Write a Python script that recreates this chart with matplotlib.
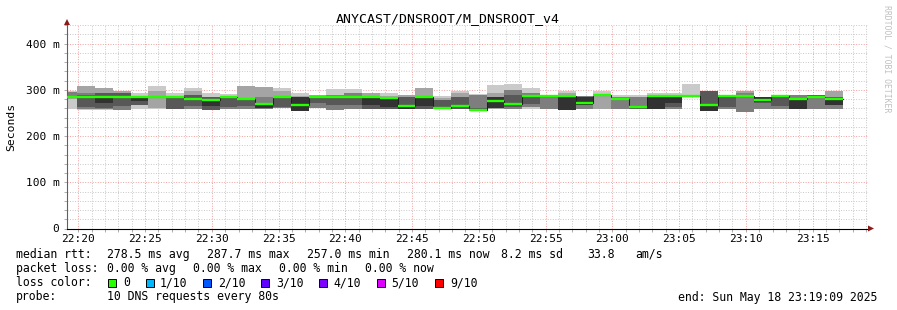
import matplotlib
matplotlib.use("Agg")
import matplotlib.pyplot as plt
import numpy as np
from matplotlib.patches import Rectangle, Polygon
from matplotlib.ticker import FixedLocator, FuncFormatter

W, H, DPI = 897, 310, 100

title = "ANYCAST/DNSROOT/M_DNSROOT_v4"
y_label = "Seconds"
watermark = "RRDTOOL / TOBI OETIKER"

# time axis in seconds after window start (22:19:09), one hour shown
window_seconds = 3600
first_step_end_s = 46
step_s = 80
first_label_s = 51
time_labels = ["22:20", "22:25", "22:30", "22:35", "22:40", "22:45",
               "22:50", "22:55", "23:00", "23:05", "23:10", "23:15"]

# median rtt per step (ms)
median_ms = [284.5, 284.5, 284.5, 284.5, 284.5, 284.5, 284.5, 279.5, 277, 284.5,
             281, 270, 284, 266, 285, 285, 285, 285, 283, 265.5,
             285, 261, 265.5, 257, 276, 270, 285.5, 285.5, 285.5, 270.5,
             287.7, 280.6, 262, 287, 287, 285.5, 267.5, 285.5, 285.5, 277,
             287, 280.5, 285, 280.1]

# 10 sorted ping rtts per step (ms)
pings_ms = [
    [258, 281, 282, 283, 284, 285, 287, 295, 296, 297],
    [257, 257.5, 258, 262, 284, 285, 288, 292, 309, 309],
    [257, 257.5, 258, 261, 271, 285, 292, 292.5, 303, 303],
    [255.8, 256, 256, 265.6, 284, 284.5, 292, 292.5, 298, 298],
    [257.7, 267, 267, 267, 276.4, 284.5, 285, 285.5, 286, 292.3],
    [257.7, 259.8, 284, 284.2, 284.4, 284.6, 284.8, 285, 298, 308.8],
    [257.5, 257.5, 257.5, 257.7, 284, 285, 285.5, 286, 286.5, 292.3],
    [257.5, 257.5, 257.7, 265, 278, 281, 288.6, 288.6, 298, 303],
    [256, 256, 256, 256.2, 265.6, 277.5, 285, 285, 285, 293.7],
    [257.5, 257.5, 257.7, 262, 284, 285, 285.5, 286, 286, 290.8],
    [259, 259, 259.1, 264.9, 279.3, 282, 282, 282, 308.8, 308.8],
    [257.5, 257.5, 257.7, 261.3, 261.5, 271, 271.5, 285, 306.7, 306.7],
    [259.5, 259.5, 259.8, 263.4, 282, 284.5, 285, 285, 298, 303],
    [254.5, 254.6, 254.7, 254.8, 254.8, 285, 285.2, 285.4, 285.6, 293.7],
    [261, 261, 261.3, 270.6, 284, 286, 286, 286, 288.6, 288.6],
    [256, 256, 256.2, 267, 284, 285, 286, 288.6, 288.6, 301.6],
    [257.5, 257.5, 257.7, 267, 284, 285, 286, 292.3, 292.3, 301.6],
    [257.5, 257.5, 257.5, 257.7, 267, 286.5, 286.7, 287, 293.7, 293.7],
    [257.5, 257.5, 257.5, 257.7, 262, 284, 284.5, 285, 285.5, 293.7],
    [257.5, 257.5, 257.5, 257.5, 257.7, 266, 284.8, 285, 288.6, 288.6],
    [257.5, 257.5, 257.5, 257.7, 264.9, 285.5, 286, 286.5, 303, 303],
    [257.5, 257.5, 257.7, 258, 260, 262, 277.8, 278, 281.7, 286.5],
    [257.5, 257.5, 257.7, 258, 265, 266, 285, 285.2, 292.3, 298],
    [256.5, 256.5, 256.5, 256.5, 257, 258.5, 260.5, 288.6, 288.6, 290.8],
    [259, 259, 259.5, 259.8, 259.8, 283.6, 283.8, 284, 292.3, 310.3],
    [257.5, 257.5, 257.7, 262, 268, 272, 288.6, 299.5, 299.5, 312.4],
    [257.7, 262, 262, 269.2, 284, 285.5, 286, 292.3, 292.3, 303],
    [257.5, 257.5, 257.7, 285, 285.2, 285.5, 285.8, 286.5, 286.5, 288.6],
    [256, 256, 256, 256.1, 256.2, 285, 286, 287, 292.3, 298],
    [257.5, 257.5, 257.7, 267.7, 268, 283.6, 284, 286.5, 286.5, 286.5],
    [257.5, 257.7, 287.5, 287.6, 287.7, 287.8, 287.9, 288, 291, 298],
    [257.5, 257.5, 257.7, 278, 280, 281, 282, 283.6, 283.6, 288.6],
    [257.5, 257.5, 257.7, 259, 261, 263, 265, 285, 285, 288.6],
    [257.5, 257.5, 257.6, 257.7, 257.7, 288.4, 288.5, 288.6, 288.6, 293.7],
    [257.5, 257.5, 257.7, 263.4, 270.6, 286.5, 287, 287.5, 287.5, 293.7],
    [285, 285.2, 285.4, 285.5, 285.5, 285.6, 285.8, 286, 288.6, 312.4],
    [254.5, 254.6, 254.7, 254.8, 254.8, 268, 298, 298, 298, 298],
    [257.5, 257.5, 257.7, 263.4, 285, 286, 288.6, 288.6, 288.6, 288.6],
    [252, 252, 252.6, 284.5, 285, 286, 286.5, 292.3, 298, 298],
    [257.5, 257.5, 257.7, 270.6, 274.2, 285, 285, 285, 285, 285],
    [257.5, 257.5, 257.7, 264.9, 285, 286, 288.6, 288.6, 288.6, 288.6],
    [257.6, 257.7, 257.7, 257.7, 257.7, 282, 282.5, 288.6, 288.6, 288.6],
    [257.5, 257.5, 257.7, 283, 284, 285.5, 288.6, 288.6, 288.6, 288.6],
    [257.5, 257.5, 257.7, 267, 267, 283, 283.5, 284, 298, 298],
]

smoke_colors = ["#cacaca", "#a4a4a4", "#7e7e7e", "#585858", "#323232"]
median_color = "#26ff00"

legend_rows = [
    [("median rtt:", 16), ("278.5 ms avg", 107.3), ("287.7 ms max", 207.3),
     ("257.0 ms min", 306.7), ("280.1 ms now", 407.3), ("8.2 ms sd", 501),
     ("33.8", 587), ("am/s", 635)],
    [("packet loss:", 16), ("0.00 % avg", 107.3), ("0.00 % max", 193.3),
     ("0.00 % min", 279.3), ("0.00 % now", 365.3)],
]
loss_labels = ["0", "1/10", "2/10", "3/10", "4/10", "5/10", "9/10"]
loss_colors = ["#26ff00", "#00b8ff", "#0059ff", "#5e00ff", "#7e00ff", "#dd00ff", "#ff0000"]
loss_box_x = [108.3, 145.7, 203.3, 261, 319, 376.7, 435]
loss_text_x = [123.3, 160, 218.3, 276, 333.3, 391.7, 450]
probe_text = "10 DNS requests every 80s"
end_text = "end: Sun May 18 23:19:09 2025"

MONO = "DejaVu Sans Mono"

fig = plt.figure(figsize=(W / DPI, H / DPI), dpi=DPI, facecolor="white")
L, R, T, B = 67, 868, 25, 228.5
ax = fig.add_axes([L / W, 1 - B / H, (R - L) / W, (B - T) / H])
ax.set_facecolor("white")

n = len(median_ms)
edges = np.concatenate([[0], first_step_end_s + step_s * np.arange(n)])
P = np.array(pings_ms)
med = np.array(median_ms)

for k in range(5):
    lo = np.append(P[:, k], P[-1, k])
    hi = np.append(P[:, 9 - k], P[-1, 9 - k])
    ax.fill_between(edges, lo, hi, step="post", color=smoke_colors[k],
                    linewidth=0, zorder=1, antialiased=False)

ax.step(edges, np.append(med, med[-1]), where="post", color="#202020",
        linewidth=0.75, zorder=3)
ax.hlines(med, edges[:-1], edges[1:], color=median_color, linewidth=1.7, zorder=4)

ax.set_xlim(0, window_seconds)
ax.set_ylim(0, 440)

major_x = first_label_s + 300 * np.arange(len(time_labels))
minor_x = np.arange(first_label_s % 60, window_seconds, 60)
ax.xaxis.set_major_locator(FixedLocator(major_x))
ax.xaxis.set_minor_locator(FixedLocator(minor_x))
ax.set_xticklabels(time_labels)

ax.yaxis.set_major_locator(FixedLocator([0, 100, 200, 300, 400]))
ax.yaxis.set_minor_locator(FixedLocator(np.arange(0, 441, 20)))
ax.yaxis.set_major_formatter(FuncFormatter(lambda v, p: "0" if v == 0 else f"{int(v)} m"))

ax.grid(which="minor", color="#c8c8c8", linestyle=(0, (1, 1.6)), linewidth=0.7, zorder=0)
ax.grid(which="major", color="#f0a0a0", linestyle=(0, (1, 1.6)), linewidth=0.7, zorder=0)
ax.set_axisbelow(True)

for s in ("top", "right"):
    ax.spines[s].set_visible(False)
ax.spines["left"].set_color("#606060")
ax.spines["bottom"].set_color("#000000")
ax.spines["left"].set_linewidth(0.8)
ax.spines["bottom"].set_linewidth(0.8)

ax.tick_params(which="both", length=2, width=0.6, color="#a0a0a0")
ax.tick_params(axis="y", which="major", pad=3.5, labelsize=8, labelcolor="#000000")
ax.tick_params(axis="x", which="major", pad=2, labelsize=8, labelcolor="#000000")
for lab in ax.get_xticklabels() + ax.get_yticklabels():
    lab.set_family(MONO)


def px(x, y):
    return (x / W, 1 - y / H)


fig.add_artist(Polygon([px(64, 25), px(70, 25), px(67, 19)], closed=True,
                       transform=fig.transFigure, color="#8b1a1a", lw=0))
fig.add_artist(Polygon([px(868, 225.5), px(868, 231.5), px(874, 228.5)], closed=True,
                       transform=fig.transFigure, color="#8b1a1a", lw=0))

fig.text(448 / W, 1 - 19 / H, title, ha="center", va="center", family=MONO, fontsize=9.5)
fig.text(11 / W, 1 - 127 / H, y_label, ha="center", va="center", rotation=90,
         family=MONO, fontsize=8.2)
fig.text(887 / W, 1 - 59 / H, watermark, ha="center", va="center", rotation=-90,
         family=MONO, fontsize=5.9, color="#c0c0c0")

LFS = 8.3
row_y = [254.3, 268.3]
for row, yy in zip(legend_rows, row_y):
    for txt, xx in row:
        fig.text(xx / W, 1 - yy / H, txt, ha="left", va="center", family=MONO, fontsize=LFS)

y3 = 282.7
fig.text(16 / W, 1 - y3 / H, "loss color:", ha="left", va="center", family=MONO, fontsize=LFS)
for bx, tx, lab, col in zip(loss_box_x, loss_text_x, loss_labels, loss_colors):
    fig.add_artist(Rectangle((bx / W, 1 - 287 / H), 8 / W, 8 / H, transform=fig.transFigure,
                             facecolor=col, edgecolor="#000000", linewidth=0.7))
    fig.text(tx / W, 1 - y3 / H, lab, ha="left", va="center", family=MONO, fontsize=LFS)

fig.text(16 / W, 1 - 296.3 / H, "probe:", ha="left", va="center", family=MONO, fontsize=LFS)
fig.text(107.3 / W, 1 - 296.3 / H, probe_text, ha="left", va="center", family=MONO, fontsize=LFS)
fig.text(678 / W, 1 - 297 / H, end_text, ha="left", va="center", family=MONO, fontsize=LFS)

fig.savefig("out.png", dpi=DPI, facecolor="white")
